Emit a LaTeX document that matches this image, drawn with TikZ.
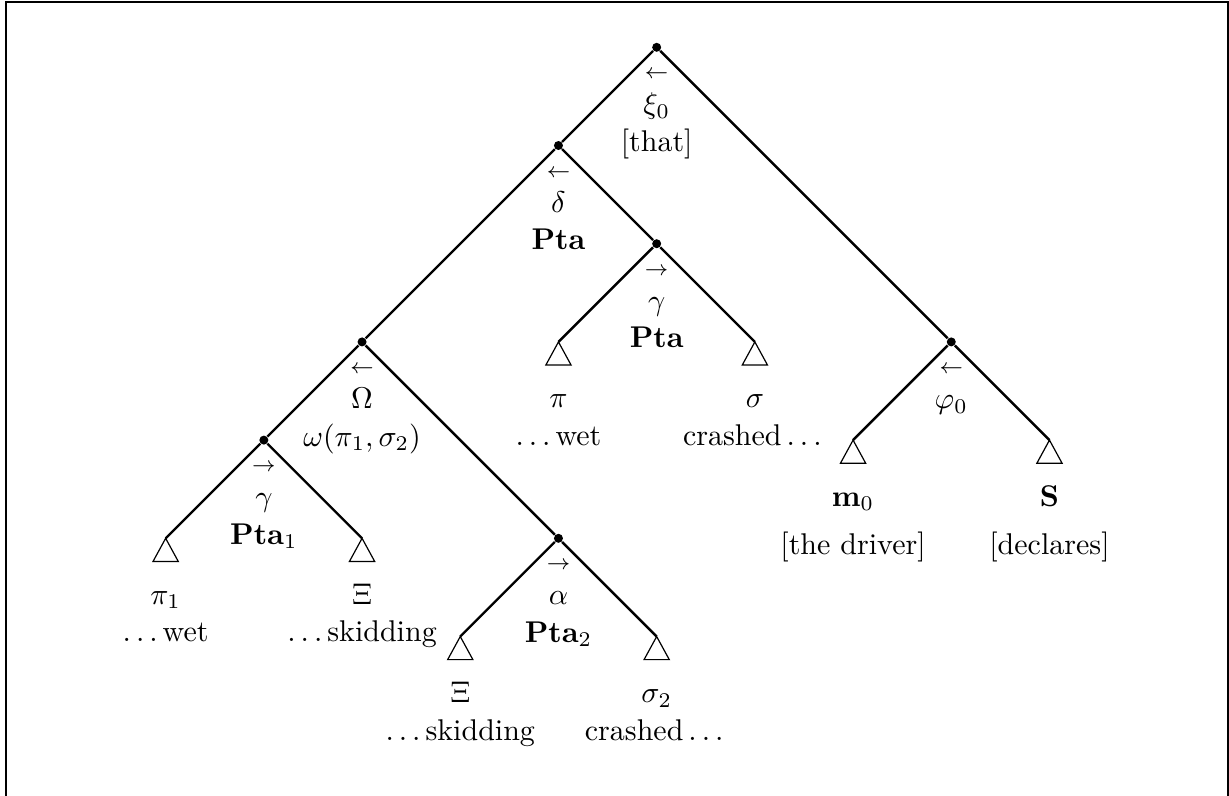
\documentclass[tikz,border=0pt]{standalone}
\usepackage{amssymb}
\usepackage{tikz}

\newcommand\ellip{.\kern1.67pt.\kern1.67pt.\kern1.67pt}

\tikzset{
  branch/.style={thick},
  knot/.style={circle,fill,inner sep=0pt,minimum size=3pt},
  roof/.style={line width=0.4pt},
  arr/.style={anchor=base,yshift=-10.5pt},
  sym/.style={anchor=base,yshift=-22.2pt},
  txt/.style={anchor=base,yshift=-34.7pt},
  leafsym/.style={anchor=base,yshift=-22pt},
  leaftxt/.style={anchor=base,yshift=-34.5pt}
}

\begin{document}
\begin{tikzpicture}[x=32.73pt,y=32.73pt]
\useasboundingbox (-6.687,-7.624) rectangle (5.828,0.4817);
\draw[line width=0.6pt] (-6.626,-8) -- (-6.626,0.463) -- (5.818,0.463) -- (5.818,-8);
% inner points
\node[knot] (xi) at (0,0) {};
\node[knot] (delta) at (-1,-1) {};
\node[knot] (gam) at (0,-2) {};
\node[knot] (om) at (-3,-3) {};
\node[knot] (phi) at (3,-3) {};
\node[knot] (gamone) at (-4,-4) {};
\node[knot] (alpha) at (-1,-5) {};
% leaves
\coordinate (pi) at (-1,-3);
\coordinate (sigma) at (1,-3);
\coordinate (m) at (2,-4);
\coordinate (s) at (4,-4);
\coordinate (pione) at (-5,-5);
\coordinate (xione) at (-3,-5);
\coordinate (xitwo) at (-2,-6);
\coordinate (sigtwo) at (0,-6);
% branches
\draw[branch] (xi) -- (delta);
\draw[branch] (xi) -- (phi);
\draw[branch] (delta) -- (om);
\draw[branch] (delta) -- (gam);
\draw[branch] (gam) -- (pi);
\draw[branch] (gam) -- (sigma);
\draw[branch] (om) -- (gamone);
\draw[branch] (om) -- (alpha);
\draw[branch] (gamone) -- (pione);
\draw[branch] (gamone) -- (xione);
\draw[branch] (alpha) -- (xitwo);
\draw[branch] (alpha) -- (sigtwo);
\draw[branch] (phi) -- (m);
\draw[branch] (phi) -- (s);
% roofs on the leaves
\foreach \l in {pi,sigma,m,s,pione,xione,xitwo,sigtwo}
  \draw[roof] (\l) -- ++(-4.2pt,-7.7pt) -- ++(8.4pt,0) -- cycle;
% labels of the inner points
\node[arr] (xi-a) at (xi) {$\scriptstyle\leftarrow$};
\node[sym] (xi-s) at (xi) {$\xi_0$};
\node[txt] (xi-t) at (xi) {[that]};
\node[arr] (delta-a) at (delta) {$\scriptstyle\leftarrow$};
\node[sym] (delta-s) at (delta) {$\delta$};
\node[txt] (delta-t) at (delta) {\textbf{Pta}};
\node[arr] (gam-a) at (gam) {$\scriptstyle\rightarrow$};
\node[sym] (gam-s) at (gam) {$\gamma$};
\node[txt] (gam-t) at (gam) {\textbf{Pta}};
\node[arr] (om-a) at (om) {$\scriptstyle\leftarrow$};
\node[sym] (om-s) at (om) {$\Omega$};
\node[txt] (om-t) at (om) {$\omega(\pi_1,\sigma_2)$};
\node[arr] (phi-a) at (phi) {$\scriptstyle\leftarrow$};
\node[sym] (phi-s) at (phi) {$\varphi_0$};
\node[arr] (gamone-a) at (gamone) {$\scriptstyle\rightarrow$};
\node[sym] (gamone-s) at (gamone) {$\gamma$};
\node[txt] (gamone-t) at (gamone) {$\mathbf{Pta}_1$};
\node[arr] (alpha-a) at (alpha) {$\scriptstyle\rightarrow$};
\node[sym] (alpha-s) at (alpha) {$\alpha$};
\node[txt] (alpha-t) at (alpha) {$\mathbf{Pta}_2$};
% labels of the leaves
\node[leafsym] (pi-s) at (pi) {$\pi$};
\node[leaftxt] (pi-t) at (pi) {\ellip wet};
\node[leafsym] (sigma-s) at (sigma) {$\sigma$};
\node[leaftxt] (sigma-t) at (sigma) {crashed\,\ellip};
\node[leafsym] (m-s) at (m) {$\mathbf{m}_0$};
\node[leaftxt,yshift=-3.5pt] (m-t) at (m) {[the driver]};
\node[leafsym] (s-s) at (s) {$\mathbf{S}$};
\node[leaftxt,yshift=-3.5pt] (s-t) at (s) {[declares]};
\node[leafsym] (pione-s) at (pione) {$\pi_1$};
\node[leaftxt] (pione-t) at (pione) {\ellip wet};
\node[leafsym] (xione-s) at (xione) {$\Xi$};
\node[leaftxt] (xione-t) at (xione) {\ellip skidding};
\node[leafsym] (xitwo-s) at (xitwo) {$\Xi$};
\node[leaftxt] (xitwo-t) at (xitwo) {\ellip skidding};
\node[leafsym] (sigtwo-s) at (sigtwo) {$\sigma_2$};
\node[leaftxt] (sigtwo-t) at (sigtwo) {crashed\,\ellip};
\end{tikzpicture}
\end{document}
